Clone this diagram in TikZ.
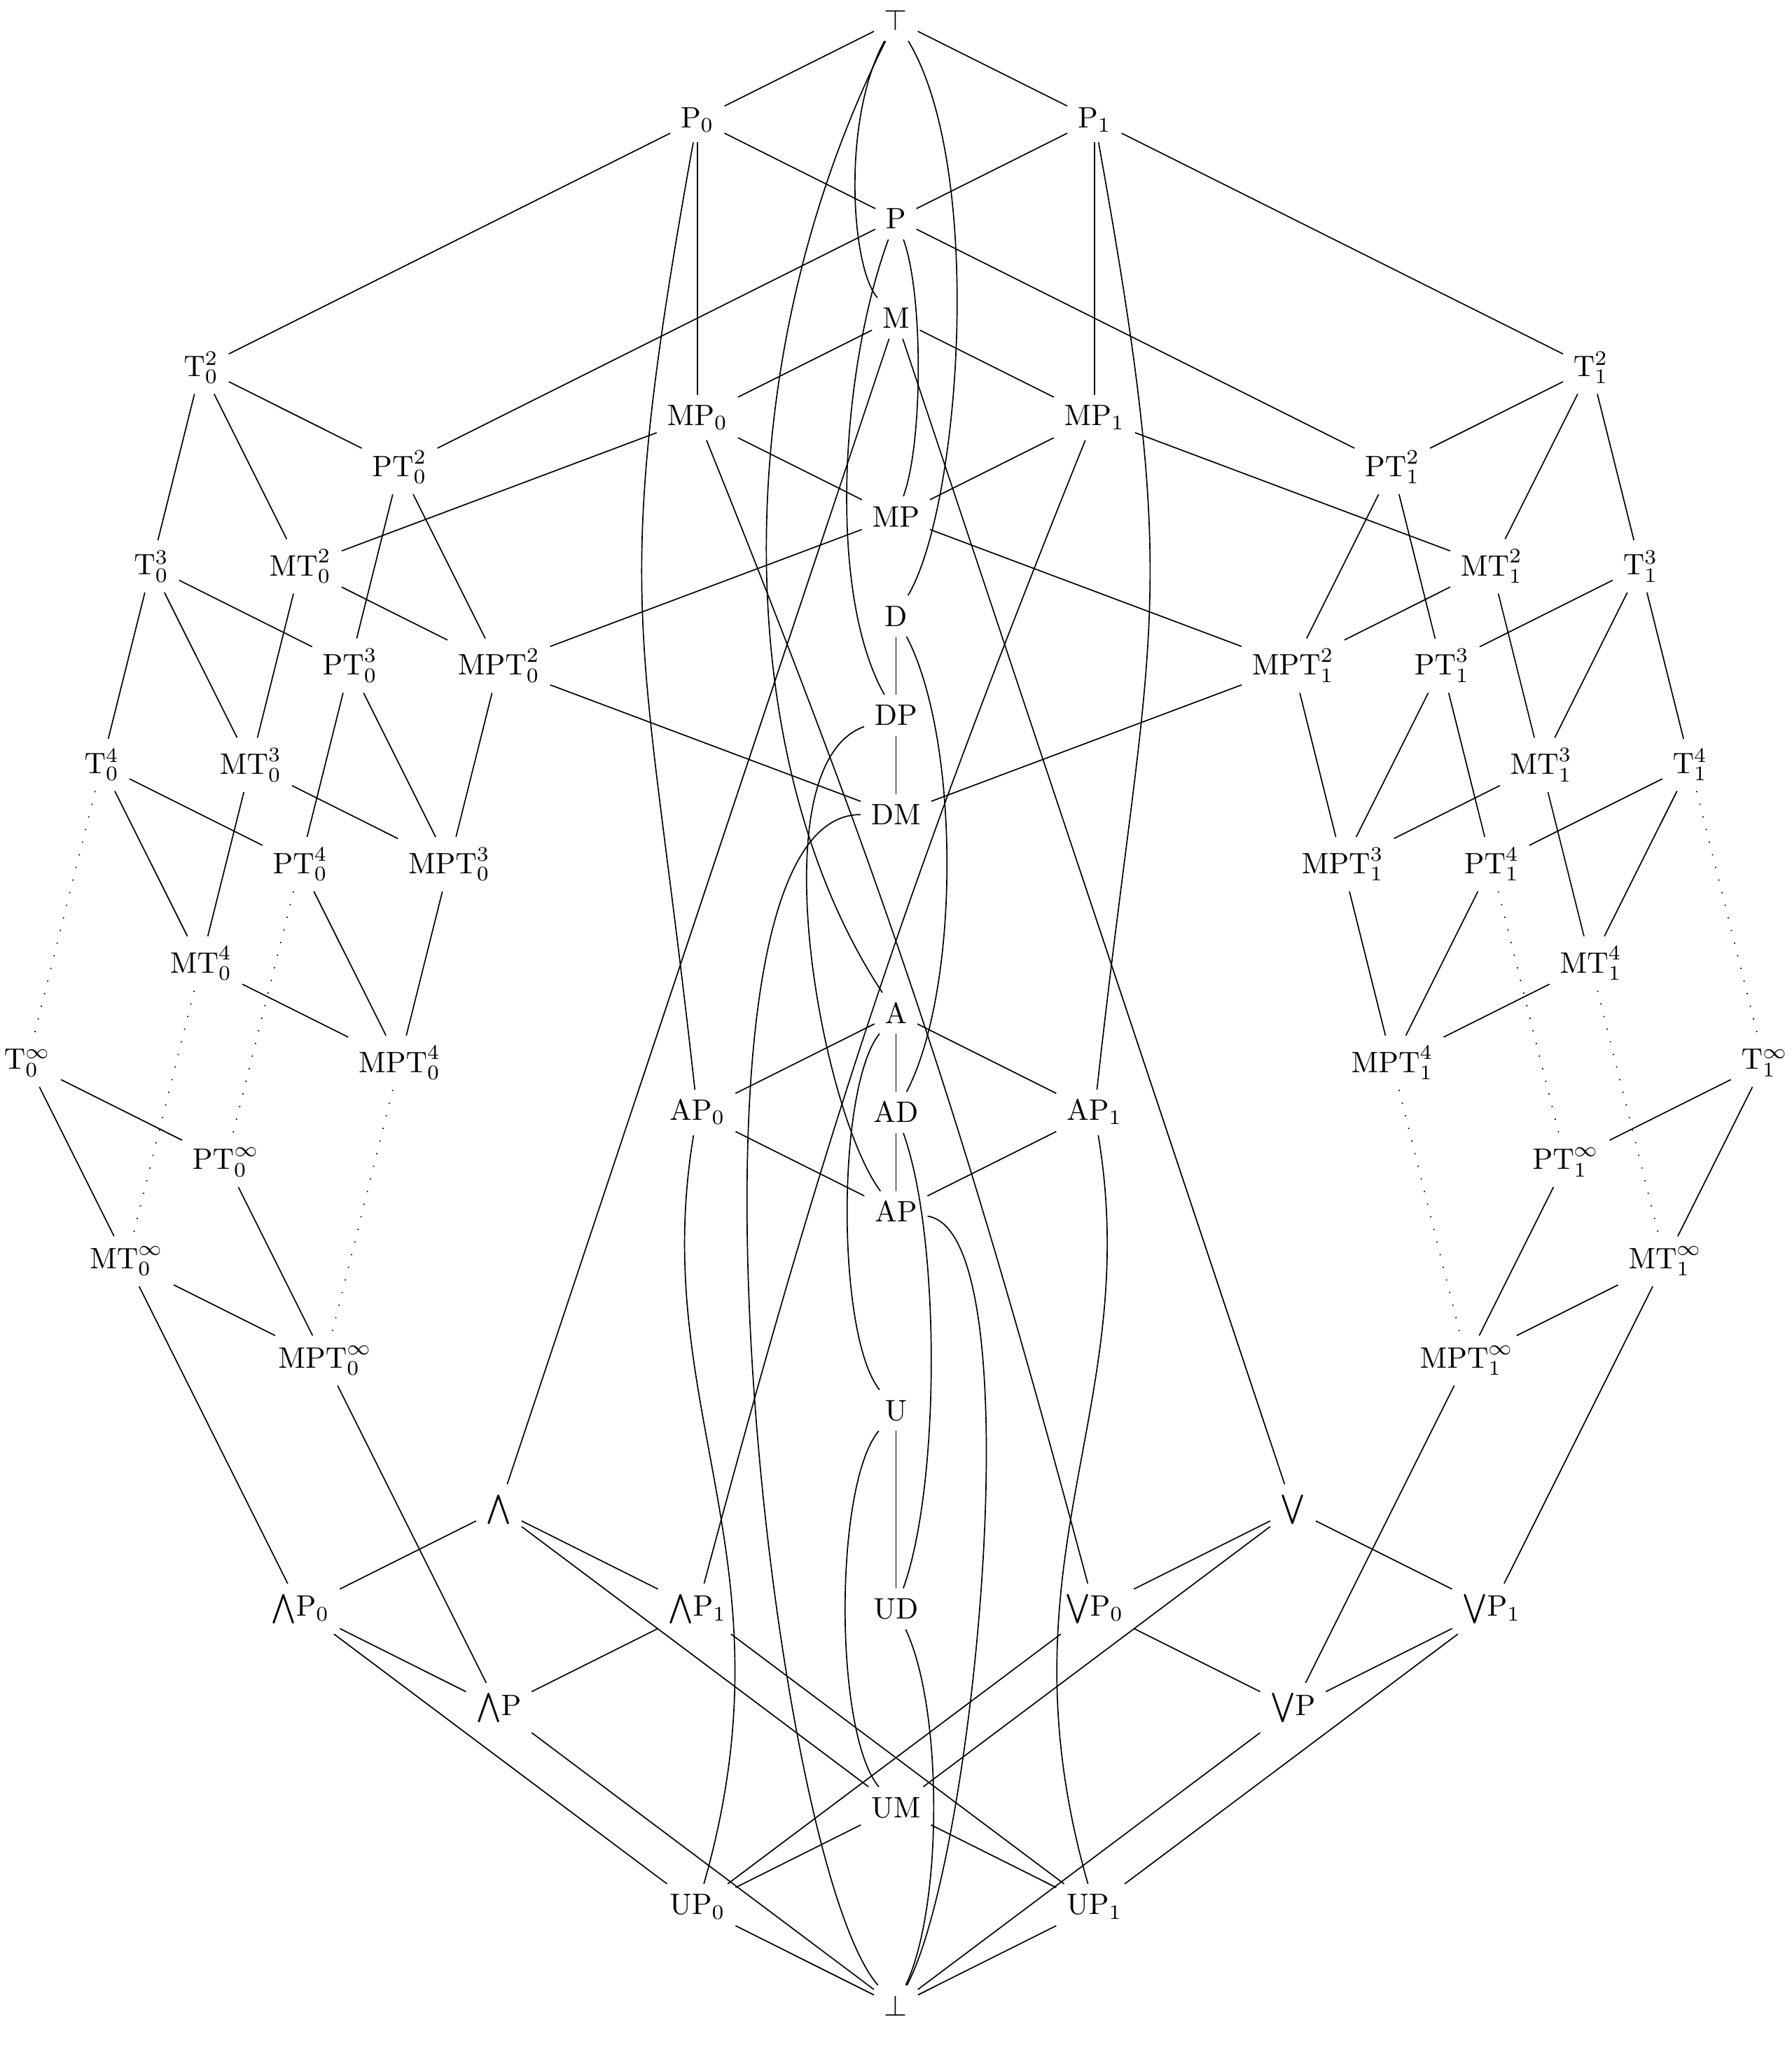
\documentclass[tikz,border=0pt]{standalone}
\usepackage{amssymb}
\usepackage{amsmath}
\usepackage{tikz}
\tikzset{
    cls/.style={inner sep=0.3333em},
    hasse/.style={-, black, line width=0.4pt},
    hassedots/.style={hasse, loosely dotted},
}

\begin{document}
\begin{tikzpicture}[x=0.59cm,y=0.59cm]
  \useasboundingbox (-18.05,-1.21) rectangle (18.05,40.41);
  % Centre column
  \node[cls] (top) at (0,40) {$\top$};
  \node[cls] (P0) at (-4,38) {$\mathrm{P}_0$};
  \node[cls] (P1) at (4,38) {$\mathrm{P}_1$};
  \node[cls] (P) at (0,36) {$\mathrm{P}$};
  \node[cls] (M) at (0,34) {$\mathrm{M}$};
  \node[cls] (MP0) at (-4,32) {$\mathrm{MP}_0$};
  \node[cls] (MP1) at (4,32) {$\mathrm{MP}_1$};
  \node[cls] (MP) at (0,30) {$\mathrm{MP}$};
  \node[cls] (D) at (0,28) {$\mathrm{D}$};
  \node[cls] (DP) at (0,26) {$\mathrm{DP}$};
  \node[cls] (DM) at (0,24) {$\mathrm{DM}$};
  \node[cls] (A) at (0,20) {$\mathrm{A}$};
  \node[cls] (AP0) at (-4,18) {$\mathrm{AP}_0$};
  \node[cls] (AD) at (0,18) {$\mathrm{AD}$};
  \node[cls] (AP1) at (4,18) {$\mathrm{AP}_1$};
  \node[cls] (AP) at (0,16) {$\mathrm{AP}$};
  \node[cls] (U) at (0,12) {$\mathrm{U}$};
  \node[cls] (UD) at (0,8) {$\mathrm{UD}$};
  \node[cls] (UM) at (0,4) {$\mathrm{UM}$};
  \node[cls] (UP0) at (-4,2) {$\mathrm{UP}_0$};
  \node[cls] (UP1) at (4,2) {$\mathrm{UP}_1$};
  \node[cls] (bot) at (0,0) {$\bot$};
  % Conjunctions and disjunctions
  \node[cls] (W) at (-8,10) {$\bigwedge$};
  \node[cls] (WP0) at (-12,8) {${\bigwedge}\mathrm{P}_0$};
  \node[cls] (WP1) at (-4,8) {${\bigwedge}\mathrm{P}_1$};
  \node[cls] (WP) at (-8,6) {${\bigwedge}\mathrm{P}$};
  \node[cls] (V) at (8,10) {$\bigvee$};
  \node[cls] (VP0) at (4,8) {${\bigvee}\mathrm{P}_0$};
  \node[cls] (VP1) at (12,8) {${\bigvee}\mathrm{P}_1$};
  \node[cls] (VP) at (8,6) {${\bigvee}\mathrm{P}$};

  % Wings: T_0 family (left), T_1 family (right)
  \foreach \s/\i in {-1/0,1/1}{
    \foreach \k in {2,3,4}{
      \node[cls] (T\i-\k) at ({\s*(12+\k)},{41-4*\k}) {$\mathrm{T}_{\i}^{\k}$};
      \node[cls] (PT\i-\k) at ({\s*(8+\k)},{39-4*\k}) {$\mathrm{PT}_{\i}^{\k}$};
      \node[cls] (MT\i-\k) at ({\s*(10+\k)},{37-4*\k}) {$\mathrm{MT}_{\i}^{\k}$};
      \node[cls] (MPT\i-\k) at ({\s*(6+\k)},{35-4*\k}) {$\mathrm{MPT}_{\i}^{\k}$};
      \draw[hasse] (T\i-\k) -- (PT\i-\k);
      \draw[hasse] (T\i-\k) -- (MT\i-\k);
      \draw[hasse] (PT\i-\k) -- (MPT\i-\k);
      \draw[hasse] (MT\i-\k) -- (MPT\i-\k);
    }
    \node[cls] (T\i-inf) at ({\s*17.5},19) {$\mathrm{T}_{\i}^{\infty}$};
    \node[cls] (PT\i-inf) at ({\s*13.5},17) {$\mathrm{PT}_{\i}^{\infty}$};
    \node[cls] (MT\i-inf) at ({\s*15.5},15) {$\mathrm{MT}_{\i}^{\infty}$};
    \node[cls] (MPT\i-inf) at ({\s*11.5},13) {$\mathrm{MPT}_{\i}^{\infty}$};
    \draw[hasse] (T\i-inf) -- (PT\i-inf);
    \draw[hasse] (T\i-inf) -- (MT\i-inf);
    \draw[hasse] (PT\i-inf) -- (MPT\i-inf);
    \draw[hasse] (MT\i-inf) -- (MPT\i-inf);
    \foreach \j/\k in {2/3,3/4}{
      \foreach \n in {T,PT,MT,MPT}{
        \draw[hasse] (\n\i-\j) -- (\n\i-\k);
      }
    }
    \foreach \n in {T,PT,MT,MPT}{
      \draw[hassedots] (\n\i-4) -- (\n\i-inf);
    }
    \draw[hasse] (P\i) -- (T\i-2);
    \draw[hasse] (P) -- (PT\i-2);
    \draw[hasse] (MP\i) -- (MT\i-2);
    \draw[hasse] (MP) -- (MPT\i-2);
    \draw[hasse] (DM) -- (MPT\i-2);
  }
  \draw[hasse] (MT0-inf) -- (WP0);
  \draw[hasse] (MPT0-inf) -- (WP);
  \draw[hasse] (MT1-inf) -- (VP1);
  \draw[hasse] (MPT1-inf) -- (VP);

  % Centre connectors
  \draw[hasse] (top) -- (P0);
  \draw[hasse] (top) -- (P1);
  \draw[hasse] (top) .. controls (-1.1,38) and (-0.9,35) .. (M);
  \draw[hasse] (top) .. controls (1.8,37) and (1.3,30.2) .. (D);
  \draw[hasse] (top) .. controls (-3.5,33) and (-3.3,25) .. (A);
  \draw[hasse] (P0) -- (P);
  \draw[hasse] (P1) -- (P);
  \draw[hasse] (P0) -- (MP0);
  \draw[hasse] (P1) -- (MP1);
  \draw[hasse] (P0) .. controls (-5.8,28) and (-5.1,28) .. (AP0);
  \draw[hasse] (P1) .. controls (5.8,28) and (5.1,28) .. (AP1);
  \draw[hasse] (P) .. controls (0.55,34.5) and (0.55,31.5) .. (MP);
  \draw[hasse] (P) .. controls (-1.1,33) and (-1.4,28.5) .. (DP);
  \draw[hasse] (M) -- (MP0);
  \draw[hasse] (M) -- (MP1);
  \draw[hasse] (M) -- (W);
  \draw[hasse] (M) -- (V);
  \draw[hasse] (MP0) -- (MP);
  \draw[hasse] (MP1) -- (MP);
  \draw[hasse] (MP0) to[bend left=3.5] (VP0);
  \draw[hasse] (MP1) to[bend right=3.5] (WP1);
  \draw[hasse] (D) -- (DP);
  \draw[hasse] (D) .. controls (1.3,25.5) and (1.3,20.5) .. (AD);
  \draw[hasse] (DP) -- (DM);
  \draw[hasse] (DP) .. controls (-2.8,25) and (-1.5,18) .. (AP);
  \draw[hasse] (DM) .. controls (-4.8,24) and (-2.6,3) .. (bot);
  \draw[hasse] (A) -- (AP0);
  \draw[hasse] (A) -- (AP1);
  \draw[hasse] (A) -- (AD);
  \draw[hasse] (A) .. controls (-1.2,18.5) and (-1.2,13.5) .. (U);
  \draw[hasse] (AP0) -- (AP);
  \draw[hasse] (AP1) -- (AP);
  \draw[hasse] (AD) -- (AP);
  \draw[hasse] (AD) .. controls (0.9,15.5) and (0.9,10.5) .. (UD);
  \draw[hasse] (AP) .. controls (2.8,15.6) and (1.6,3) .. (bot);
  \draw[hasse] (AP0) .. controls (-5,12) and (-2,9) .. (UP0);
  \draw[hasse] (AP1) .. controls (5,12) and (2,9) .. (UP1);
  \draw[hasse] (U) -- (UD);
  \draw[hasse] (U) .. controls (-1.25,10.5) and (-1.25,5.5) .. (UM);
  \draw[hasse] (UD) .. controls (0.95,6) and (0.95,2) .. (bot);
  \draw[hasse] (UM) -- (UP0);
  \draw[hasse] (UM) -- (UP1);
  \draw[hasse] (UP0) -- (bot);
  \draw[hasse] (UP1) -- (bot);
  % Conjunction / disjunction diamonds
  \draw[hasse] (W) -- (WP0);
  \draw[hasse] (W) -- (WP1);
  \draw[hasse] (WP0) -- (WP);
  \draw[hasse] (WP1) -- (WP);
  \draw[hasse] (W) -- (UM);
  \draw[hasse] (WP0) -- (UP0);
  \draw[hasse] (WP1) -- (UP1);
  \draw[hasse] (WP) -- (bot);
  \draw[hasse] (V) -- (VP0);
  \draw[hasse] (V) -- (VP1);
  \draw[hasse] (VP0) -- (VP);
  \draw[hasse] (VP1) -- (VP);
  \draw[hasse] (V) -- (UM);
  \draw[hasse] (VP0) -- (UP0);
  \draw[hasse] (VP1) -- (UP1);
  \draw[hasse] (VP) -- (bot);
\end{tikzpicture}
\end{document}
